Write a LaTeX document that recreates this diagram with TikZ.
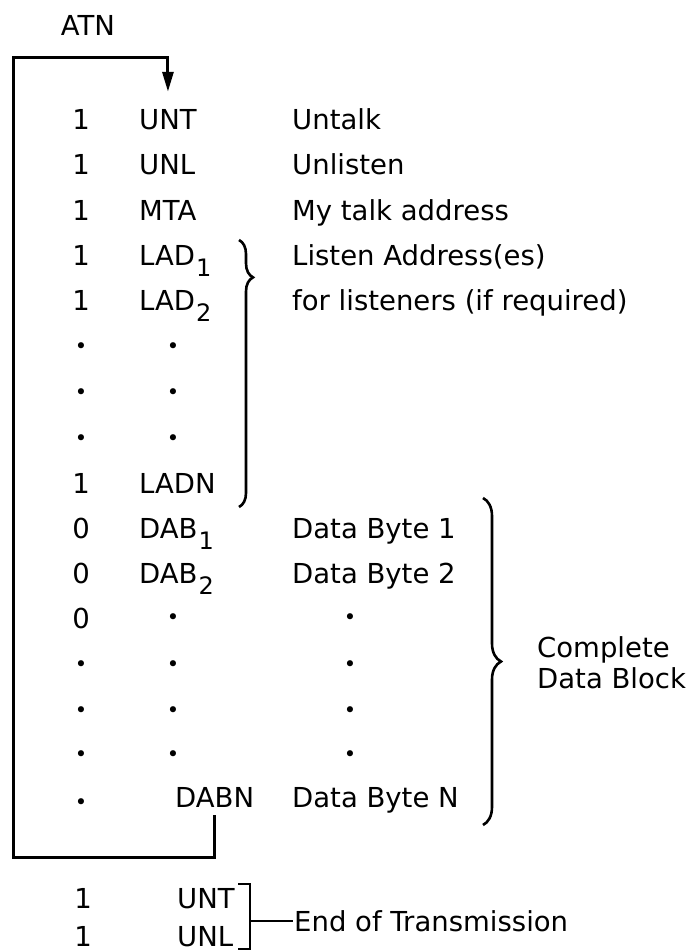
\documentclass[tikz,border=0pt]{standalone}
\usepackage{fontspec}
\setmainfont{DejaVu Sans}
\usetikzlibrary{arrows.meta,positioning,decorations.pathreplacing}
\newcommand{\lowsub}[1]{\kern1pt\raisebox{-11pt}{\fontsize{24}{24}\selectfont #1}}

\begin{document}
\begin{tikzpicture}[
  x=1pt, y=-1pt,
  every node/.style={font=\fontsize{27.5}{31}\selectfont, inner sep=2pt},
  bit/.style  ={anchor=base},
  code/.style ={anchor=base west},
  desc/.style ={anchor=base west},
  dotm/.style ={font=\fontsize{21}{21}\selectfont, inner sep=0pt},
  wire/.style ={line width=3pt},
  flow/.style ={wire, -{Triangle[length=20pt,width=11pt]}},
  curly/.style={line width=2.6pt, decorate, decoration={brace, amplitude=14pt}}
]
\useasboundingbox (0,0) rectangle (690,952);

\node[anchor=base] (atn) at (88,36) {ATN};

% talker / listener addressing
\node[bit] (b0) at (81,130) {1}; \node[code] (unt) at (137,130) {UNT};  \node[desc] (d0) at (290,130) {Untalk};
\node[bit] (b1) at (81,175) {1}; \node[code] (unl) at (137,175) {UNL};  \node[desc] (d1) at (290,175) {Unlisten};
\node[bit] (b2) at (81,220) {1}; \node[code] (mta) at (137,220) {MTA};  \node[desc] (d2) at (290,220) {My talk address};
\node[bit] (b3) at (81,265) {1}; \node[code] (lad1) at (137,265) {LAD\lowsub{1}}; \node[desc] (d3) at (290,265) {Listen Address(es)};
\node[bit] (b4) at (81,310) {1}; \node[code] (lad2) at (137,310) {LAD\lowsub{2}}; \node[desc] (d4) at (290,310) {for listeners (if required)};
\foreach \yy in {348,394,440} {
  \node[dotm] (pa\yy) at (81,\yy) {•};
  \node[dotm] (pb\yy) at (173,\yy) {•};
}
\node[bit] (b8) at (81,493) {1}; \node[code] (ladn) at (137,493) {LADN};

% data bytes
\node[bit] (b9)  at (81,538) {0}; \node[code] (dab1) at (137,538) {DAB\lowsub{1}}; \node[desc] (d9)  at (290,538) {Data Byte 1};
\node[bit] (b10) at (81,583) {0}; \node[code] (dab2) at (137,583) {DAB\lowsub{2}}; \node[desc] (d10) at (290,583) {Data Byte 2};
\node[bit] (b11) at (81,628) {0};
\node[dotm] (pb619) at (173,619) {•}; \node[dotm] (pc619) at (350,619) {•};
\foreach \yy in {666,712,756} {
  \node[dotm] (pa\yy) at (81,\yy) {•};
  \node[dotm] (pb\yy) at (173,\yy) {•};
  \node[dotm] (pc\yy) at (350,\yy) {•};
}
\node[dotm] (pa804) at (81,804) {•};
\node[code] (dabn) at (173,807) {DABN}; \node[desc] (d15) at (290,807) {Data Byte N};

% braces
\draw[curly, decoration={aspect=0.14}] (239,240) -- (239,507);
\draw[curly, decoration={amplitude=18pt}] (483,498) -- (483,825);
\node[anchor=west, align=left] (blk) at (535,663) {Complete\\Data Block};

% ATN loop
\coordinate (lowleft) at (13,857);
\coordinate (topleft) at (13,58);
\draw[flow, shorten <=6pt, shorten >=16pt] (dabn.south) |- (lowleft) -- (topleft) -| (unt.north);

% end of transmission
\node[bit] (e0) at (83,908) {1}; \node[code] (unt2) at (175,908) {UNT};
\node[bit] (e1) at (83,946) {1}; \node[code] (unl2) at (175,946) {UNL};
\draw[line width=2.4pt] (238,884) -- (250,884) -- (250,949) -- (238,949);
\coordinate (eotb) at (250,921);
\node[anchor=west, inner sep=1pt] (eot) at (293,921) {End of Transmission};
\draw[line width=2.4pt] (eotb) -- (eot.west);
\end{tikzpicture}
\end{document}
